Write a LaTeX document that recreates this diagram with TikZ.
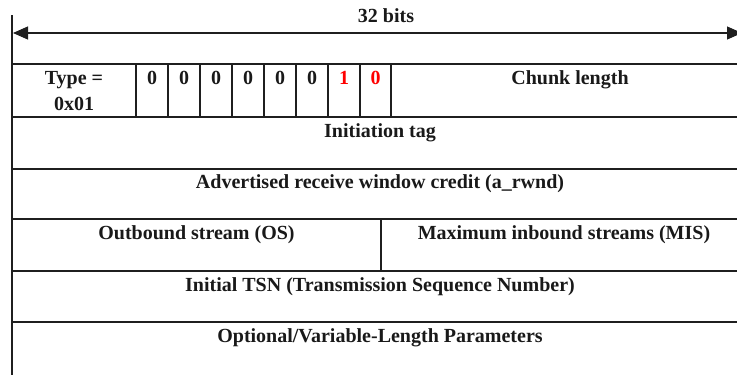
\documentclass[tikz,border=0pt]{standalone}
\usepackage{fontspec}
\setmainfont{Liberation Serif}
\usetikzlibrary{arrows.meta}
\begin{document}
\begin{tikzpicture}[x=1pt,y=-1pt,
  grid/.style={line width=1.1pt, draw=black!88},
  lbl/.style={anchor=base, inner sep=0pt, font=\bfseries\fontsize{20}{24}\selectfont, text=black!90},
  redlbl/.style={lbl, text=red},
  dim/.style={line width=1.1pt, draw=black!88, {Triangle[length=15pt,width=13pt]}-{Triangle[length=15pt,width=13pt]}}]
\useasboundingbox (0,0) rectangle (737,375);
% left boundary
\draw[grid] (12,15) -- (12,376);
% width arrow
\coordinate (arrL) at (13,33);
\coordinate (arrR) at (742,33);
\draw[dim] (arrL) -- (arrR);
\node[lbl] (bits) at (386,22) {32 bits};
% horizontal rules
\foreach \yy in {64,117,169,219,271,322}
  \draw[grid] (12,\yy) -- (745,\yy);
% vertical rules row 1
\foreach \xx in {136,168,200,232,264,296,328,360,391}
  \draw[grid] (\xx,64) -- (\xx,117);
% vertical rule row 4
\draw[grid] (381,219) -- (381,271);
% row 1 labels
\node[lbl] (type1) at (74,84) {Type =};
\node[lbl] (type2) at (74,110) {0x01};
\node[lbl] (b1) at (152,84) {0};
\node[lbl] (b2) at (184,84) {0};
\node[lbl] (b3) at (216,84) {0};
\node[lbl] (b4) at (248,84) {0};
\node[lbl] (b5) at (280,84) {0};
\node[lbl] (b6) at (312,84) {0};
\node[redlbl] (b7) at (344,84) {1};
\node[redlbl] (b8) at (375.5,84) {0};
\node[lbl] (chunk) at (570,84) {Chunk length};
% other rows
\node[lbl] (itag) at (380,137) {Initiation tag};
\node[lbl] (arwnd) at (380,188) {Advertised receive window credit (a\_rwnd)};
\node[lbl] (os) at (196.5,239) {Outbound stream (OS)};
\node[lbl] (mis) at (564,239) {Maximum inbound streams (MIS)};
\node[lbl] (tsn) at (380,291) {Initial TSN (Transmission Sequence Number)};
\node[lbl] (opt) at (380,342) {Optional/Variable-Length Parameters};
\end{tikzpicture}
\end{document}
